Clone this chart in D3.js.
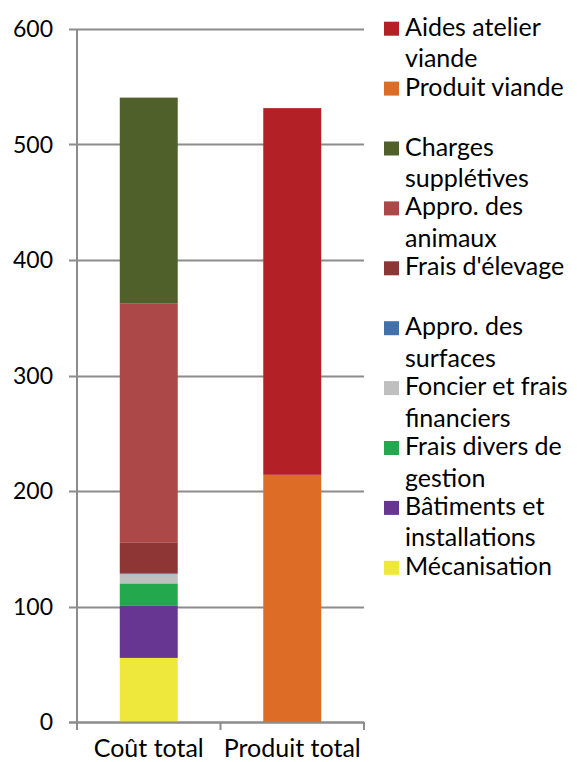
<!DOCTYPE html>
<html>
<head>
<meta charset="utf-8">
<script src="https://cdn.jsdelivr.net/npm/d3@7"></script>
<style>
  body { margin: 0; background: #fff; }
  text { font-family: Lato, "Noto Sans", sans-serif; fill: #000; }
</style>
</head>
<body>
<div class="vis-stack"></div>
<script>
// categories on the x axis
const categories = ['Coût total', 'Produit total'];

// series, bottom of stack first
const seriesNames = [
  'Mécanisation',
  'Bâtiments et installations',
  'Frais divers de gestion',
  'Foncier et frais financiers',
  'Appro. des surfaces',
  "Frais d'élevage",
  'Appro. des animaux',
  'Charges supplétives',
  'Produit viande',
  'Aides atelier viande'
];
const coutTotal = [55.5, 45, 19.5, 8, 0.6, 27, 207, 178, 0, 0];
const produitTotal = [0, 0, 0, 0, 0, 0, 0, 0, 214, 317.5];

const seriesColors = ['#eee83c', '#673592', '#23a84e', '#bfbfbf', '#4472a8',
  '#8e3535', '#ac4848', '#4f602b', '#dd6c26', '#b32025'];

// legend rows (top to bottom), split in lines
const legendLines = [
  ['Aides atelier', 'viande'],
  ['Produit viande'],
  ['Charges', 'supplétives'],
  ['Appro. des', 'animaux'],
  ["Frais d'élevage"],
  ['Appro. des', 'surfaces'],
  ['Foncier et frais', 'financiers'],
  ['Frais divers de', 'gestion'],
  ['Bâtiments et', 'installations'],
  ['Mécanisation']
];

const yTicks = [0, 100, 200, 300, 400, 500, 600];

const draw = () => {
  const width = 577, height = 762;
  const margin = { top: 29, right: 213, bottom: 40, left: 77 };

  const table = categories.map((c, ci) => {
    const row = { cat: c };
    seriesNames.forEach((s, si) => {
      row[s] = ci === 0 ? coutTotal[si] : produitTotal[si];
    });
    return row;
  });

  const svg = d3.select('.vis-stack')
    .append('svg')
    .attr('width', width)
    .attr('height', height);

  const x = d3.scaleBand()
    .domain(categories)
    .range([margin.left, width - margin.right])
    .paddingInner(0.596)
    .paddingOuter(0.298);

  const y = d3.scaleLinear()
    .domain([0, 600])
    .range([height - margin.bottom, margin.top]);

  const color = d3.scaleOrdinal().domain(seriesNames).range(seriesColors);

  // gridlines
  svg.append('g')
    .selectAll('line')
    .data(yTicks)
    .enter()
    .append('line')
    .attr('x1', margin.left - 8)
    .attr('x2', width - margin.right)
    .attr('y1', (d) => Math.round(y(d)) + 0.5)
    .attr('y2', (d) => Math.round(y(d)) + 0.5)
    .attr('stroke', '#8c8c8c')
    .attr('stroke-width', 2);

  // y labels
  svg.append('g')
    .selectAll('text')
    .data(yTicks)
    .enter()
    .append('text')
    .attr('x', 53)
    .attr('y', (d) => y(d) + 8)
    .attr('text-anchor', 'end')
    .style('font-size', '23px')
    .text((d) => d);

  // stacked bars
  const stack = d3.stack().keys(seriesNames);
  const layers = stack(table);

  svg.append('g')
    .selectAll('g')
    .data(layers)
    .enter()
    .append('g')
    .attr('fill', (d) => color(d.key))
    .selectAll('rect')
    .data((d) => d)
    .enter()
    .append('rect')
    .attr('x', (d) => x(d.data.cat))
    .attr('width', x.bandwidth())
    .attr('y', (d) => y(d[1]))
    .attr('height', (d) => y(d[0]) - y(d[1]));

  // y axis line
  const x0 = margin.left;
  svg.append('line')
    .attr('x1', x0).attr('x2', x0)
    .attr('y1', margin.top)
    .attr('y2', y(0) + 8)
    .attr('stroke', '#8c8c8c')
    .attr('stroke-width', 2);

  // x axis line and ticks
  svg.append('line')
    .attr('x1', x0 - 8)
    .attr('x2', width - margin.right)
    .attr('y1', Math.round(y(0)) + 0.5)
    .attr('y2', Math.round(y(0)) + 0.5)
    .attr('stroke', '#8c8c8c')
    .attr('stroke-width', 2);

  const step = x.step();
  const bounds = [x0, x0 + step, x0 + 2 * step];
  svg.append('g')
    .selectAll('line')
    .data(bounds)
    .enter()
    .append('line')
    .attr('x1', (d) => d)
    .attr('x2', (d) => d)
    .attr('y1', y(0))
    .attr('y2', y(0) + 8)
    .attr('stroke', '#8c8c8c')
    .attr('stroke-width', 2);

  // x labels
  svg.append('g')
    .selectAll('text')
    .data(categories)
    .enter()
    .append('text')
    .attr('x', (d) => x(d) + x.bandwidth() / 2)
    .attr('y', 757)
    .attr('text-anchor', 'middle')
    .style('font-size', '25px')
    .text((d) => d);

  // legend
  const legendG = svg.selectAll('.legend')
    .data(legendLines)
    .enter()
    .append('g')
    .attr('class', 'legend')
    .attr('transform', (d, i) => 'translate(384,' + (21.7 + i * 59.9) + ')');

  const legendColors = seriesColors.slice().reverse();

  legendG.append('rect')
    .attr('width', 15)
    .attr('height', 14)
    .attr('fill', (d, i) => legendColors[i]);

  legendG.append('text')
    .style('font-size', '25px')
    .selectAll('tspan')
    .data((d) => d)
    .enter()
    .append('tspan')
    .attr('x', 21)
    .attr('y', (d, j) => 14 + j * 31.5)
    .text((d) => d);
};

draw();
</script>
</body>
</html>
